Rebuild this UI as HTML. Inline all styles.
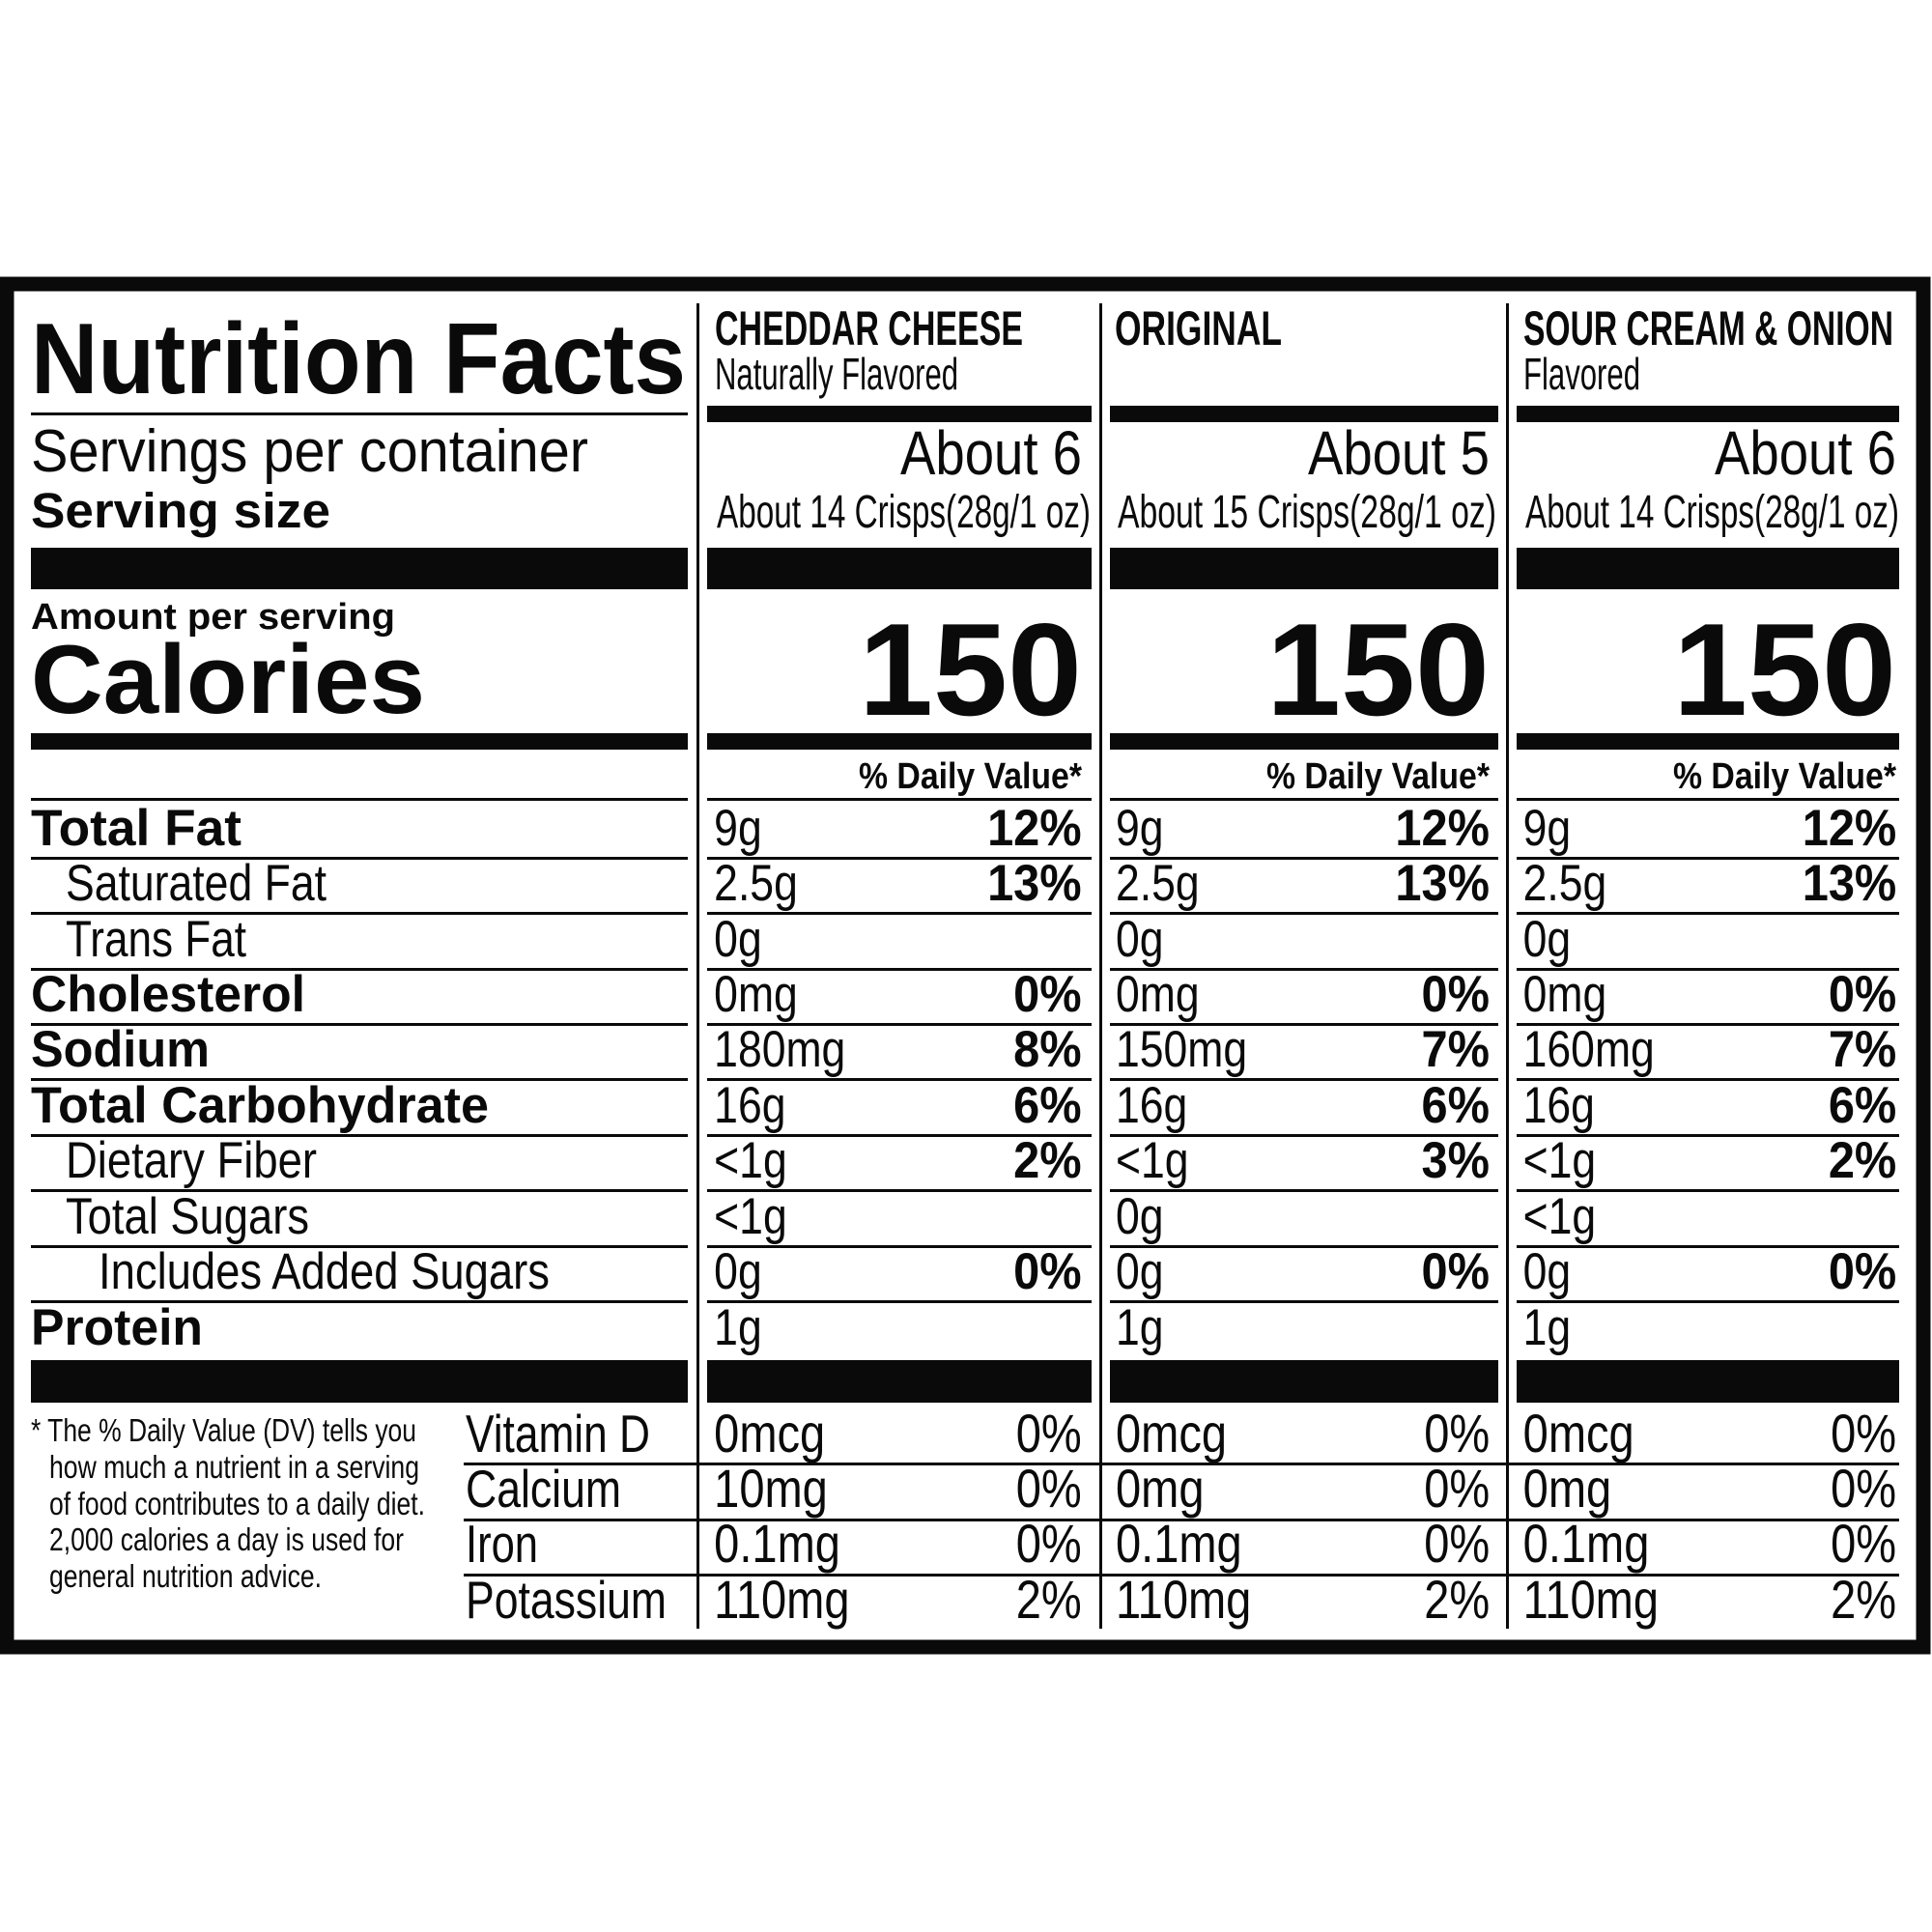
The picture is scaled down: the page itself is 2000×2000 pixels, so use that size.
<!DOCTYPE html>
<html><head><meta charset="utf-8"><style>html,body{margin:0;padding:0;background:#fff}svg{display:block}</style></head><body>
<svg width="2000" height="2000" viewBox="0 0 2000 2000" xmlns="http://www.w3.org/2000/svg" font-family="Liberation Sans, sans-serif" fill="#0a0a0a">
<rect x="0" y="0" width="2000" height="2000" fill="#fff"/>
<!-- outer border -->
<rect x="7" y="294" width="1984" height="1411" fill="none" stroke="#0a0a0a" stroke-width="15"/>
<!-- vertical dividers -->
<rect x="721" y="314" width="3" height="1372"/>
<rect x="1138" y="314" width="3" height="1372"/>
<rect x="1559" y="314" width="3" height="1372"/>

<!-- Left header -->
<text x="32" y="407" font-size="104" font-weight="bold" textLength="678" lengthAdjust="spacingAndGlyphs">Nutrition Facts</text>
<rect x="32" y="427" width="680" height="3"/>
<text x="32" y="488" font-size="62" textLength="577" lengthAdjust="spacingAndGlyphs">Servings per container</text>
<text x="32" y="546" font-size="51" font-weight="bold" textLength="310" lengthAdjust="spacingAndGlyphs">Serving size</text>
<rect x="32" y="567" width="680" height="43"/>
<text x="32" y="651" font-size="38" font-weight="bold" textLength="377" lengthAdjust="spacingAndGlyphs">Amount per serving</text>
<text x="32" y="738" font-size="101" font-weight="bold" textLength="408" lengthAdjust="spacingAndGlyphs">Calories</text>
<rect x="32" y="759" width="680" height="17"/>
<rect x="32" y="826" width="680" height="3"/>

<!-- column bars -->
<g>
<rect x="732" y="420" width="398" height="17"/><rect x="1149" y="420" width="402" height="17"/><rect x="1570" y="420" width="396" height="17"/>
<rect x="732" y="567" width="398" height="43"/><rect x="1149" y="567" width="402" height="43"/><rect x="1570" y="567" width="396" height="43"/>
<rect x="732" y="759" width="398" height="17"/><rect x="1149" y="759" width="402" height="17"/><rect x="1570" y="759" width="396" height="17"/>
<rect x="732" y="826" width="398" height="3"/><rect x="1149" y="826" width="402" height="3"/><rect x="1570" y="826" width="396" height="3"/>
</g>

<!-- column headers -->
<text x="740" y="357" font-size="50" font-weight="bold" textLength="319" lengthAdjust="spacingAndGlyphs">CHEDDAR CHEESE</text>
<text x="740" y="403" font-size="46" textLength="252" lengthAdjust="spacingAndGlyphs">Naturally Flavored</text>
<text x="1154" y="357" font-size="50" font-weight="bold" textLength="173" lengthAdjust="spacingAndGlyphs">ORIGINAL</text>
<text x="1577" y="357" font-size="50" font-weight="bold" textLength="383" lengthAdjust="spacingAndGlyphs">SOUR CREAM &amp; ONION</text>
<text x="1577" y="403" font-size="46" textLength="121" lengthAdjust="spacingAndGlyphs">Flavored</text>

<g font-size="64" text-anchor="end">
<text x="1120" y="491" textLength="188" lengthAdjust="spacingAndGlyphs">About 6</text>
<text x="1542" y="491" textLength="188" lengthAdjust="spacingAndGlyphs">About 5</text>
<text x="1963" y="491" textLength="188" lengthAdjust="spacingAndGlyphs">About 6</text>
</g>
<g font-size="48">
<text x="742" y="546" textLength="387" lengthAdjust="spacingAndGlyphs">About 14 Crisps(28g/1 oz)</text>
<text x="1157" y="546" textLength="392" lengthAdjust="spacingAndGlyphs">About 15 Crisps(28g/1 oz)</text>
<text x="1579" y="546" textLength="387" lengthAdjust="spacingAndGlyphs">About 14 Crisps(28g/1 oz)</text>
</g>
<g font-size="136" font-weight="bold" text-anchor="end">
<text x="1120" y="740" textLength="231" lengthAdjust="spacingAndGlyphs">150</text>
<text x="1542" y="740" textLength="231" lengthAdjust="spacingAndGlyphs">150</text>
<text x="1963" y="740" textLength="231" lengthAdjust="spacingAndGlyphs">150</text>
</g>
<g font-size="38" font-weight="bold" text-anchor="end">
<text x="1120" y="816" textLength="231" lengthAdjust="spacingAndGlyphs">% Daily Value*</text>
<text x="1542" y="816" textLength="231" lengthAdjust="spacingAndGlyphs">% Daily Value*</text>
<text x="1963" y="816" textLength="231" lengthAdjust="spacingAndGlyphs">% Daily Value*</text>
</g>

<!-- row lines -->
<g>
<rect x="32" y="887" width="680" height="3"/><rect x="732" y="887" width="398" height="3"/><rect x="1149" y="887" width="402" height="3"/><rect x="1570" y="887" width="396" height="3"/>
<rect x="32" y="944" width="680" height="3"/><rect x="732" y="944" width="398" height="3"/><rect x="1149" y="944" width="402" height="3"/><rect x="1570" y="944" width="396" height="3"/>
<rect x="32" y="1002" width="680" height="3"/><rect x="732" y="1002" width="398" height="3"/><rect x="1149" y="1002" width="402" height="3"/><rect x="1570" y="1002" width="396" height="3"/>
<rect x="32" y="1059" width="680" height="3"/><rect x="732" y="1059" width="398" height="3"/><rect x="1149" y="1059" width="402" height="3"/><rect x="1570" y="1059" width="396" height="3"/>
<rect x="32" y="1116" width="680" height="3"/><rect x="732" y="1116" width="398" height="3"/><rect x="1149" y="1116" width="402" height="3"/><rect x="1570" y="1116" width="396" height="3"/>
<rect x="32" y="1174" width="680" height="3"/><rect x="732" y="1174" width="398" height="3"/><rect x="1149" y="1174" width="402" height="3"/><rect x="1570" y="1174" width="396" height="3"/>
<rect x="32" y="1231" width="680" height="3"/><rect x="732" y="1231" width="398" height="3"/><rect x="1149" y="1231" width="402" height="3"/><rect x="1570" y="1231" width="396" height="3"/>
<rect x="32" y="1289" width="680" height="3"/><rect x="732" y="1289" width="398" height="3"/><rect x="1149" y="1289" width="402" height="3"/><rect x="1570" y="1289" width="396" height="3"/>
<rect x="32" y="1346" width="680" height="3"/><rect x="732" y="1346" width="398" height="3"/><rect x="1149" y="1346" width="402" height="3"/><rect x="1570" y="1346" width="396" height="3"/>
<rect x="32" y="1408" width="680" height="44"/><rect x="732" y="1408" width="398" height="44"/><rect x="1149" y="1408" width="402" height="44"/><rect x="1570" y="1408" width="396" height="44"/>
<rect x="480" y="1514" width="1486" height="3"/>
<rect x="480" y="1572" width="1486" height="3"/>
<rect x="480" y="1629" width="1486" height="3"/>
</g>

<!-- left labels -->
<g font-size="53">
<text x="32" y="875" font-weight="bold" textLength="218" lengthAdjust="spacingAndGlyphs">Total Fat</text>
<text x="68" y="932" textLength="270" lengthAdjust="spacingAndGlyphs">Saturated Fat</text>
<text x="68" y="990" textLength="187" lengthAdjust="spacingAndGlyphs">Trans Fat</text>
<text x="32" y="1047" font-weight="bold" textLength="284" lengthAdjust="spacingAndGlyphs">Cholesterol</text>
<text x="32" y="1104" font-weight="bold" textLength="185" lengthAdjust="spacingAndGlyphs">Sodium</text>
<text x="32" y="1162" font-weight="bold" textLength="474" lengthAdjust="spacingAndGlyphs">Total Carbohydrate</text>
<text x="68" y="1219" textLength="260" lengthAdjust="spacingAndGlyphs">Dietary Fiber</text>
<text x="68" y="1277" textLength="252" lengthAdjust="spacingAndGlyphs">Total Sugars</text>
<text x="102" y="1334" textLength="467" lengthAdjust="spacingAndGlyphs">Includes Added Sugars</text>
<text x="32" y="1392" font-weight="bold" textLength="178" lengthAdjust="spacingAndGlyphs">Protein</text>
</g>
<g font-size="55">
<text x="482" y="1503" textLength="191" lengthAdjust="spacingAndGlyphs">Vitamin D</text>
<text x="482" y="1560" textLength="161" lengthAdjust="spacingAndGlyphs">Calcium</text>
<text x="482" y="1617" textLength="75" lengthAdjust="spacingAndGlyphs">Iron</text>
<text x="482" y="1675" textLength="208" lengthAdjust="spacingAndGlyphs">Potassium</text>
</g>
<g font-size="33">
<text x="32" y="1492" textLength="399" lengthAdjust="spacingAndGlyphs">* The % Daily Value (DV) tells you</text>
<text x="51" y="1530" textLength="383" lengthAdjust="spacingAndGlyphs">how much a nutrient in a serving</text>
<text x="51" y="1568" textLength="389" lengthAdjust="spacingAndGlyphs">of food contributes to a daily diet.</text>
<text x="51" y="1605" textLength="367" lengthAdjust="spacingAndGlyphs">2,000 calories a day is used for</text>
<text x="51" y="1643" textLength="282" lengthAdjust="spacingAndGlyphs">general nutrition advice.</text>
</g>

<!-- column values: regular amounts -->
<g font-size="53" transform="scale(0.84,1)">
<!-- x values divided by 0.84: 739->880, 1155->1375, 1577->1877 -->
<text x="880" y="875">9g</text><text x="1375" y="875">9g</text><text x="1877" y="875">9g</text>
<text x="880" y="932">2.5g</text><text x="1375" y="932">2.5g</text><text x="1877" y="932">2.5g</text>
<text x="880" y="990">0g</text><text x="1375" y="990">0g</text><text x="1877" y="990">0g</text>
<text x="880" y="1047">0mg</text><text x="1375" y="1047">0mg</text><text x="1877" y="1047">0mg</text>
<text x="880" y="1104">180mg</text><text x="1375" y="1104">150mg</text><text x="1877" y="1104">160mg</text>
<text x="880" y="1162">16g</text><text x="1375" y="1162">16g</text><text x="1877" y="1162">16g</text>
<text x="880" y="1219">&lt;1g</text><text x="1375" y="1219">&lt;1g</text><text x="1877" y="1219">&lt;1g</text>
<text x="880" y="1277">&lt;1g</text><text x="1375" y="1277">0g</text><text x="1877" y="1277">&lt;1g</text>
<text x="880" y="1334">0g</text><text x="1375" y="1334">0g</text><text x="1877" y="1334">0g</text>
<text x="880" y="1392">1g</text><text x="1375" y="1392">1g</text><text x="1877" y="1392">1g</text>
</g>
<!-- bold percents -->
<g font-size="53" font-weight="bold" text-anchor="end" transform="scale(0.92,1)">
<!-- right x /0.92: 1120->1217, 1542->1676, 1963->2134 -->
<text x="1217" y="875">12%</text><text x="1676" y="875">12%</text><text x="2134" y="875">12%</text>
<text x="1217" y="932">13%</text><text x="1676" y="932">13%</text><text x="2134" y="932">13%</text>
<text x="1217" y="1047">0%</text><text x="1676" y="1047">0%</text><text x="2134" y="1047">0%</text>
<text x="1217" y="1104">8%</text><text x="1676" y="1104">7%</text><text x="2134" y="1104">7%</text>
<text x="1217" y="1162">6%</text><text x="1676" y="1162">6%</text><text x="2134" y="1162">6%</text>
<text x="1217" y="1219">2%</text><text x="1676" y="1219">3%</text><text x="2134" y="1219">2%</text>
<text x="1217" y="1334">0%</text><text x="1676" y="1334">0%</text><text x="2134" y="1334">0%</text>
</g>
<!-- vitamin values -->
<g font-size="56" transform="scale(0.84,1)">
<text x="880" y="1503">0mcg</text><text x="1375" y="1503">0mcg</text><text x="1877" y="1503">0mcg</text>
<text x="880" y="1560">10mg</text><text x="1375" y="1560">0mg</text><text x="1877" y="1560">0mg</text>
<text x="880" y="1617">0.1mg</text><text x="1375" y="1617">0.1mg</text><text x="1877" y="1617">0.1mg</text>
<text x="880" y="1675">110mg</text><text x="1375" y="1675">110mg</text><text x="1877" y="1675">110mg</text>
</g>
<g font-size="56" text-anchor="end" transform="scale(0.84,1)">
<!-- right /0.84: 1120->1333, 1542->1836, 1963->2337 -->
<text x="1333" y="1503">0%</text><text x="1836" y="1503">0%</text><text x="2337" y="1503">0%</text>
<text x="1333" y="1560">0%</text><text x="1836" y="1560">0%</text><text x="2337" y="1560">0%</text>
<text x="1333" y="1617">0%</text><text x="1836" y="1617">0%</text><text x="2337" y="1617">0%</text>
<text x="1333" y="1675">2%</text><text x="1836" y="1675">2%</text><text x="2337" y="1675">2%</text>
</g>
</svg>
</body></html>
